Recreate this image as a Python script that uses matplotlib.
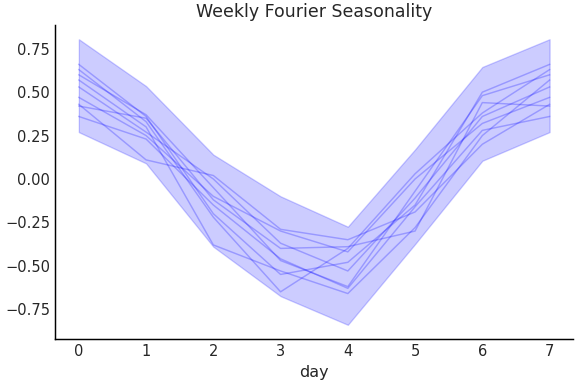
import numpy as np
import matplotlib
matplotlib.use("Agg")
import matplotlib.pyplot as plt

days = [0, 1, 2, 3, 4, 5, 6, 7]

# posterior samples of the weekly component (day 7 wraps to day 0)
samples = [
    [0.66, 0.36, -0.20, -0.55, -0.48, -0.15, 0.50, 0.66],
    [0.63, 0.33, -0.22, -0.65, -0.40, 0.03, 0.38, 0.63],
    [0.60, 0.37, -0.05, -0.47, -0.62, -0.07, 0.48, 0.60],
    [0.57, 0.30, -0.38, -0.53, -0.66, -0.28, 0.25, 0.57],
    [0.53, 0.27, 0.00, -0.37, -0.53, -0.11, 0.36, 0.53],
    [0.47, 0.25, -0.10, -0.30, -0.42, 0.00, 0.32, 0.47],
    [0.43, 0.11, 0.02, -0.29, -0.35, -0.19, 0.20, 0.43],
    [0.42, 0.35, -0.12, -0.40, -0.39, -0.30, 0.44, 0.42],
    [0.36, 0.23, -0.15, -0.46, -0.63, -0.16, 0.28, 0.36],
]

band_upper = [0.805, 0.535, 0.14, -0.10, -0.275, 0.17, 0.645, 0.805]
band_lower = [0.27, 0.09, -0.39, -0.675, -0.84, -0.375, 0.105, 0.27]

TXT = "#262626"
plt.rcParams.update({
    "text.color": TXT,
    "axes.labelcolor": TXT,
    "xtick.color": TXT,
    "ytick.color": TXT,
})

fig, ax = plt.subplots(figsize=(6, 4), dpi=96)
fig.subplots_adjust(left=0.096, right=0.995, bottom=0.117, top=0.935)

ax.fill_between(days, band_lower, band_upper, color="#0000ff", alpha=0.2)
for s in samples:
    ax.plot(days, s, color="#0000ff", alpha=0.25, linewidth=1.1)

ax.set_xticks(days)
ax.set_yticks([0.75, 0.5, 0.25, 0.0, -0.25, -0.5, -0.75])
ax.tick_params(length=0, pad=4, labelsize=11)
ax.set_xlabel("day", fontsize=12, labelpad=4)
ax.set_title("Weekly Fourier Seasonality", fontsize=13, pad=6)
ax.spines["top"].set_visible(False)
ax.spines["right"].set_visible(False)
ax.spines["left"].set_linewidth(1.1)
ax.spines["bottom"].set_linewidth(1.1)

fig.savefig("out.png", dpi=96)
